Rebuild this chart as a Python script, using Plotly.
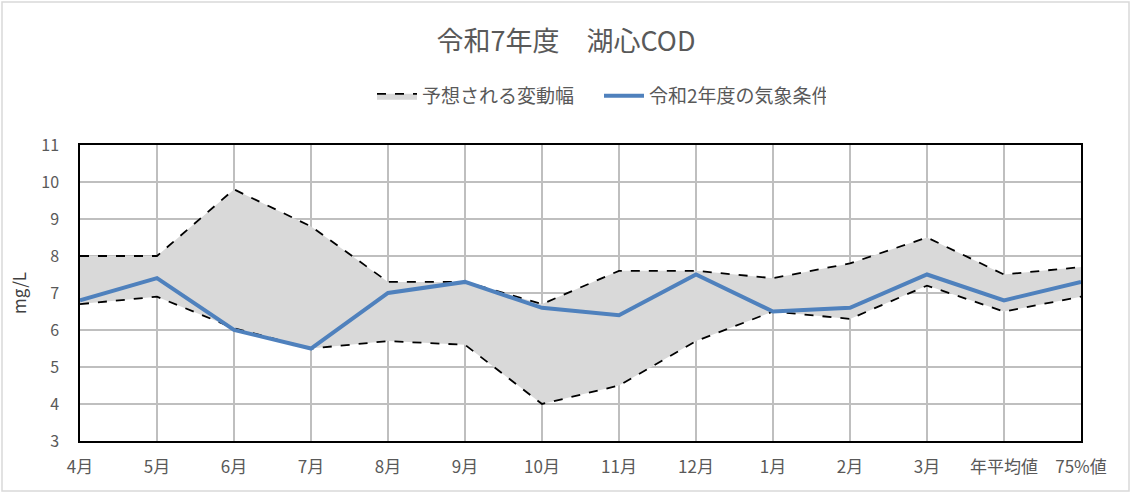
import plotly.graph_objects as go

categories = ["4月", "5月", "6月", "7月", "8月", "9月", "10月", "11月", "12月",
              "1月", "2月", "3月", "年平均値", "75%値"]
upper = [8.0, 8.0, 9.8, 8.8, 7.3, 7.3, 6.7, 7.6, 7.6, 7.4, 7.8, 8.5, 7.5, 7.7]
lower = [6.7, 6.9, 6.05, 5.5, 5.7, 5.6, 4.0, 4.5, 5.7, 6.5, 6.3, 7.2, 6.5, 6.9]
r2_weather = [6.8, 7.4, 6.0, 5.5, 7.0, 7.3, 6.6, 6.4, 7.5, 6.5, 6.6, 7.5, 6.8, 7.3]

title_text = "令和7年度　湖心COD"
band_name = "予想される変動幅"
line_name = "令和2年度の気象条件"
y_title = "mg/L"

FONT = "Noto Sans CJK JP"
GRAY = "#595959"

fig = go.Figure()
fig.add_trace(go.Scatter(
    x=categories, y=lower, mode="lines",
    line=dict(color="black", width=1.8, dash="dash"),
    showlegend=False, hoverinfo="skip"))
fig.add_trace(go.Scatter(
    x=categories, y=upper, mode="lines", name=band_name,
    line=dict(color="black", width=1.8, dash="dash"),
    fill="tonexty", fillcolor="#d9d9d9"))
fig.add_trace(go.Scatter(
    x=categories, y=r2_weather, mode="lines", name=line_name,
    line=dict(color="#4f81bd", width=4)))

fig.update_layout(
    width=1132, height=493,
    margin=dict(l=80, r=51, t=145, b=52),
    paper_bgcolor="white", plot_bgcolor="white",
    font=dict(family=FONT, color=GRAY, size=16),
    title=dict(text=title_text, x=0.5, xanchor="center",
               yref="container", y=1 - 42 / 493, yanchor="middle",
               font=dict(size=27, color=GRAY, family=FONT)),
    legend=dict(orientation="h", x=(372 - 80) / 1001, xanchor="left",
                yref="container", y=1 - 96 / 493, yanchor="middle",
                font=dict(size=19, color=GRAY), traceorder="normal",
                itemwidth=40, entrywidth=172, entrywidthmode="pixels"),
    shapes=[dict(type="rect", xref="paper", yref="paper",
                 x0=-78 / 1001, x1=1 + 48 / 1001, y0=-50 / 296, y1=1 + 143 / 296,
                 line=dict(color="#d9d9d9", width=1.5), layer="below")],
)
fig.update_xaxes(
    type="category", range=[0, len(categories) - 1],
    showgrid=True, gridcolor="#bfbfbf", gridwidth=1.5,
    showline=True, mirror=True, linecolor="black", linewidth=1.5,
    ticks="", ticklabelstandoff=10, tickfont=dict(size=17, color=GRAY))
fig.update_yaxes(
    range=[3, 11], dtick=1, tick0=3,
    showgrid=True, gridcolor="#bfbfbf", gridwidth=1.5,
    showline=True, mirror=True, linecolor="black", linewidth=1.5,
    ticks="", ticklabelstandoff=16, tickfont=dict(size=16, color=GRAY),
    title=dict(text=y_title, font=dict(size=17, color="#404040"), standoff=10),
    zeroline=False)

fig.write_html("out.html", config={"displayModeBar": False},
               post_script="document.body.style.margin='0';")
